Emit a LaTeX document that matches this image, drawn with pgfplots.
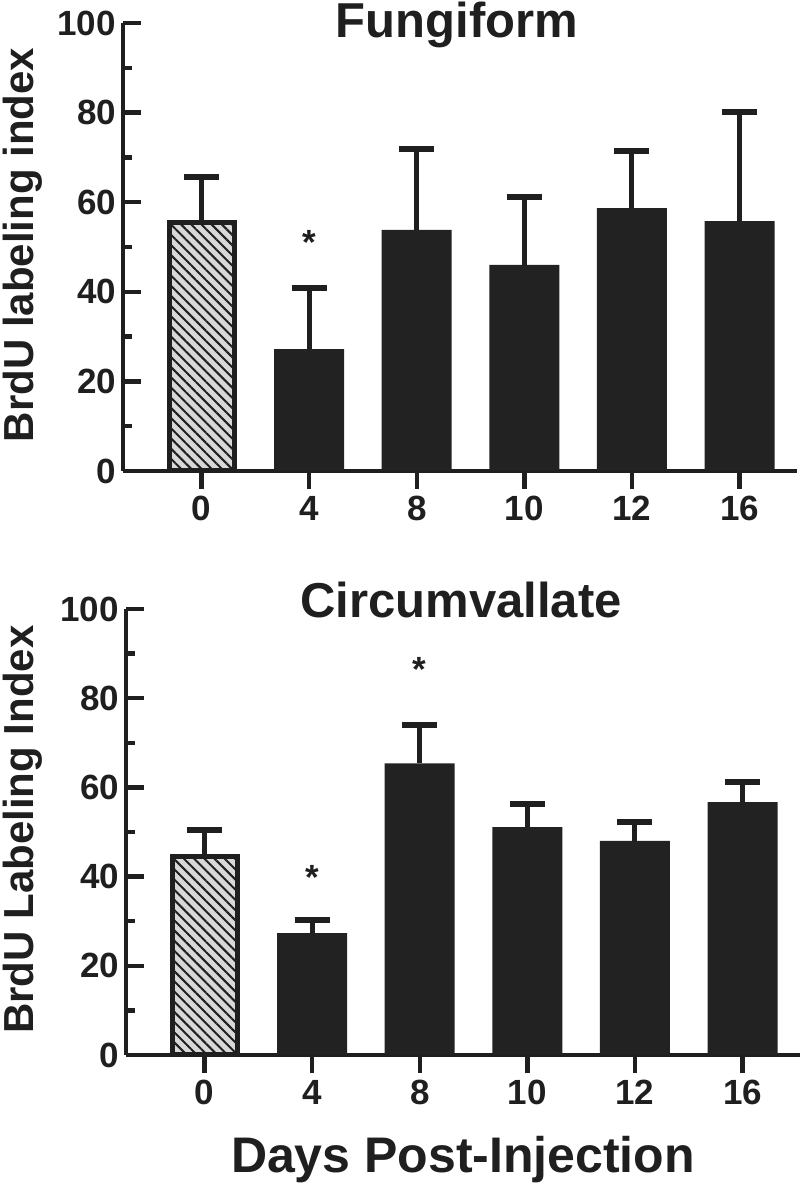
\documentclass[border=0pt]{standalone}
\usepackage{fontspec}
\setmainfont{Liberation Sans}
\usepackage{pgfplots}
\pgfplotsset{compat=1.18}
\usetikzlibrary{patterns.meta}
\definecolor{ink}{HTML}{1F1F1F}
\definecolor{barfill}{HTML}{222222}
\definecolor{hatchbg}{HTML}{D8D8D8}

\newcommand{\tickfont}{\bfseries\fontsize{17.5}{18}\selectfont}

\pgfplotsset{
  panel/.style={
    anchor=south west, x=53.8pt,
    xmin=-0.73, xmax=5.53, ymin=0, ymax=100,
    axis lines=left, axis line style={-, line width=2.4pt, ink},
    ybar, bar width=35pt,
    xtick={0,...,5}, xticklabels={0,4,8,10,12,16},
    ytick={0,20,...,100}, minor y tick num=1,
    xtick align=outside, ytick align=inside,
    major tick length=9pt, minor tick length=4.5pt,
    tick style={line width=2.2pt, ink},
    ticklabel style={font=\tickfont, text=ink},
    /pgf/number format/assume math mode=true,
    clip=false,
  },
  ctrl/.style={bar shift=0pt, bar width=32.5pt, draw=ink, line width=2.5pt,
    preaction={fill=hatchbg},
    pattern={Lines[angle=-45,distance=3.6pt,line width=1pt]}, pattern color=ink},
  treat/.style={bar shift=0pt, fill=barfill, draw=none},
  ebar/.style={error bars/.cd, y dir=plus, y explicit,
    error bar style={line width=2.5pt, ink},
    error mark options={rotate=90, mark size=8.75pt, line width=2.8pt, ink}},
}
\tikzset{asterisk/.style={font=\tickfont, text=ink}}

\begin{document}
\begin{tikzpicture}
\useasboundingbox (0,0) rectangle (400pt,597pt);

% Fungiform
\begin{axis}[panel, y=2.24pt, at={(61.5pt,361.5pt)}]
\addplot[ctrl, ebar] coordinates {(0,55.4) +- (0,10.2)};
\addplot[treat, ebar] coordinates {
  (1,27.2) +- (0,13.6)
  (2,53.8) +- (0,18.1)
  (3,46.0) +- (0,15.1)
  (4,58.7) +- (0,12.7)
  (5,55.8) +- (0,24.3)
};
\node[asterisk] at (axis cs:1,51.0) {*};
\end{axis}

% Circumvallate
\begin{axis}[panel, y=2.23pt, at={(63pt,69.5pt)}]
\addplot[ctrl, ebar] coordinates {(0,44.5) +- (0,5.9)};
\addplot[treat, ebar] coordinates {
  (1,27.3) +- (0,3.0)
  (2,65.4) +- (0,8.6)
  (3,51.1) +- (0,5.2)
  (4,48.0) +- (0,4.2)
  (5,56.7) +- (0,4.5)
};
\node[asterisk] at (axis cs:1,39.8) {*};
\node[asterisk] at (axis cs:2,86.4) {*};
\end{axis}

\node[anchor=base, font=\bfseries\fontsize{24.5}{26}\selectfont, text=ink] at (228.5pt,578pt) {Fungiform};
\node[anchor=base, font=\bfseries\fontsize{24.5}{26}\selectfont, text=ink] at (230.5pt,288pt) {Circumvallate};
\node[anchor=base, font=\bfseries\fontsize{25}{27}\selectfont, text=ink] at (231.5pt,10.5pt) {Days Post-Injection};
\node[rotate=90, anchor=base, font=\bfseries\fontsize{21}{23}\selectfont, text=ink] at (16.5pt,474.5pt) {BrdU labeling index};
\node[rotate=90, anchor=base, font=\bfseries\fontsize{21}{23}\selectfont, text=ink] at (16.5pt,182.2pt) {BrdU Labeling Index};
\end{tikzpicture}
\end{document}
